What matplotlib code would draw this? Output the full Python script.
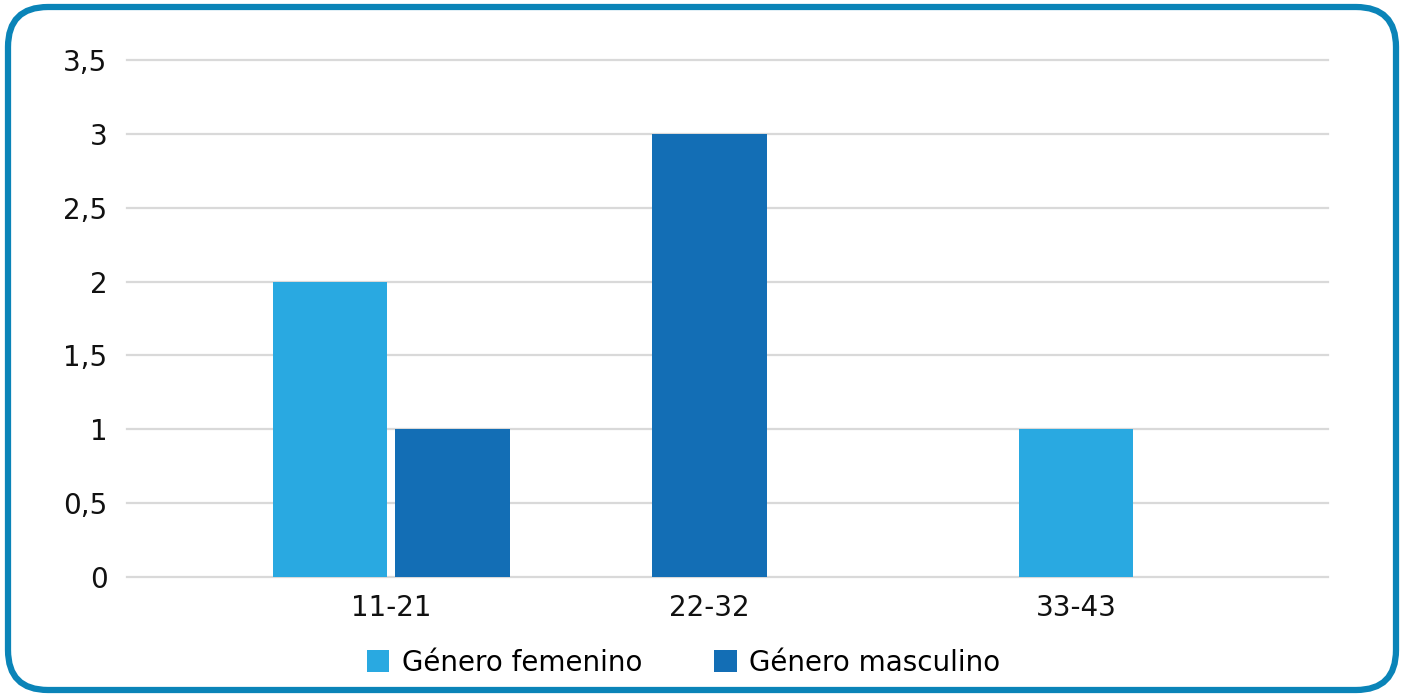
import matplotlib
matplotlib.use('Agg')
import matplotlib.pyplot as plt
from matplotlib.patches import FancyBboxPatch, Patch
from matplotlib.ticker import FuncFormatter
from matplotlib.transforms import IdentityTransform

categories = ['11-21', '22-32', '33-43']
femenino = [2, 0, 1]
masculino = [1, 3, 0]
series_names = ['Género femenino', 'Género masculino']
y_ticks = [0, 0.5, 1, 1.5, 2, 2.5, 3, 3.5]

COLORS = ['#29A9E1', '#136EB5']
BORDER = '#0A84B8'


def plot():
    plt.rcParams['font.family'] = ['DejaVu Sans']
    fig = plt.figure(figsize=(14.04, 6.94), dpi=100)
    ax = fig.add_axes([0.0905, 0.1686, 0.8554, 0.7449])

    # category centres as they sit in the original (uneven spacing)
    centers = [0.22, 0.485, 0.79]
    width = 0.095
    offset = 0.051
    for i, c in enumerate(centers):
        vals = [femenino[i], masculino[i]]
        present = [k for k, v in enumerate(vals) if v > 0]
        for j, k in enumerate(present):
            if len(present) == 2:
                x = c + (-offset if j == 0 else offset)
            else:
                x = c
            ax.bar(x, vals[k], width=width, color=COLORS[k], zorder=3)

    ax.set_xlim(0, 1)
    ax.set_ylim(0, 3.5)
    ax.set_yticks(y_ticks)
    ax.yaxis.set_major_formatter(FuncFormatter(lambda v, p: ('%g' % v).replace('.', ',')))
    ax.set_xticks(centers)
    ax.set_xticklabels(categories)
    ax.tick_params(axis='both', length=0, labelsize=20, colors='#111111')
    ax.tick_params(axis='y', pad=14)
    ax.tick_params(axis='x', pad=12)
    for s in ax.spines.values():
        s.set_visible(False)
    ax.grid(axis='y', color='#D9D9D9', linewidth=1.6, zorder=0)
    for gl in ax.get_ygridlines():
        gl.set_clip_on(False)
    ax.set_axisbelow(True)

    handles = [Patch(facecolor=COLORS[0]), Patch(facecolor=COLORS[1])]
    fig.legend(handles, series_names, loc='center', bbox_to_anchor=(0.487, 0.045),
               ncol=2, frameon=False, fontsize=20, handlelength=0.8, handleheight=0.8,
               handletextpad=0.45, columnspacing=2.6)

    # rounded frame, in pixels
    box = FancyBboxPatch((8, 4), 1388, 683,
                         boxstyle='round,pad=0,rounding_size=40',
                         transform=IdentityTransform(), facecolor='none',
                         edgecolor=BORDER, linewidth=4.5, zorder=10)
    fig.patches.append(box)

    fig.savefig('out.png', dpi=100)


def main():
    plot()

main()
